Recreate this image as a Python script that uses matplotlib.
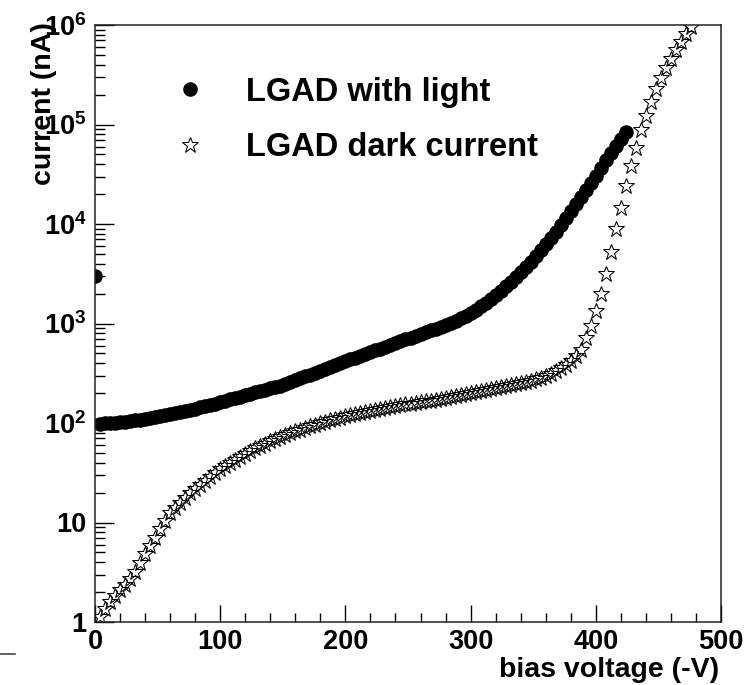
import numpy as np
import matplotlib
matplotlib.use("Agg")
import matplotlib.pyplot as plt
from matplotlib.ticker import MultipleLocator, LogLocator, FixedLocator, NullFormatter
from matplotlib.lines import Line2D

plt.rcParams['font.family'] = ['Liberation Sans', 'DejaVu Sans']
plt.rcParams['font.weight'] = 'bold'
plt.rcParams['mathtext.fontset'] = 'custom'
plt.rcParams['mathtext.rm'] = 'Liberation Sans:bold'
plt.rcParams['mathtext.bf'] = 'Liberation Sans:bold'

# LGAD with light: bias (-V) and log10(current / nA)
light_v = [0, 4, 8, 12, 16, 20, 24, 28, 32, 36, 40, 44, 48, 52, 56, 60, 64, 68, 72, 76,
           80, 84, 88, 92, 96, 100, 104, 108, 112, 116, 120, 124, 128, 132, 136, 140, 144,
           148, 152, 156, 160, 164, 168, 172, 176, 180, 184, 188, 192, 196, 200, 204, 208,
           212, 216, 220, 224, 228, 232, 236, 240, 244, 248, 252, 256, 260, 264, 268, 272,
           276, 280, 284, 288, 292, 296, 300, 304, 308, 312, 316, 320, 324, 328, 332, 336,
           340, 344, 348, 352, 356, 360, 364, 368, 372, 376, 380, 384, 388, 392, 396, 400,
           404, 408, 412, 416, 420, 424]
light_log = [3.48, 1.99, 1.995, 2.00, 2.005, 2.01, 2.015, 2.02, 2.03, 2.035, 2.045, 2.05,
             2.06, 2.07, 2.08, 2.09, 2.10, 2.11, 2.12, 2.135, 2.145, 2.16, 2.17, 2.18, 2.195,
             2.21, 2.225, 2.24, 2.25, 2.265, 2.28, 2.295, 2.31, 2.32, 2.335, 2.35, 2.36,
             2.37, 2.39, 2.41, 2.43, 2.45, 2.47, 2.485, 2.505, 2.525, 2.545, 2.565, 2.585,
             2.60, 2.62, 2.64, 2.655, 2.675, 2.695, 2.71, 2.73, 2.745, 2.765, 2.78, 2.80,
             2.82, 2.84, 2.855, 2.875, 2.89, 2.91, 2.93, 2.945, 2.965, 2.985, 3.005, 3.03,
             3.055, 3.08, 3.11, 3.14, 3.175, 3.21, 3.25, 3.29, 3.33, 3.38, 3.42, 3.47, 3.52,
             3.57, 3.62, 3.68, 3.74, 3.80, 3.86, 3.92, 3.99, 4.06, 4.13, 4.20, 4.27, 4.34,
             4.41, 4.48, 4.56, 4.64, 4.71, 4.78, 4.85, 4.92]

# LGAD dark current
dark_v = [4, 8, 12, 16, 20, 24, 28, 32, 36, 40, 44, 48, 52, 56, 60, 64, 68, 72, 76, 80,
          84, 88, 92, 96, 100, 104, 108, 112, 116, 120, 124, 128, 132, 136, 140, 144, 148,
          152, 156, 160, 164, 168, 172, 176, 180, 184, 188, 192, 196, 200, 204, 208, 212,
          216, 220, 224, 228, 232, 236, 240, 244, 248, 252, 256, 260, 264, 268, 272, 276,
          280, 284, 288, 292, 296, 300, 304, 308, 312, 316, 320, 324, 328, 332, 336, 340,
          344, 348, 352, 356, 360, 364, 368, 372, 376, 380, 384, 388, 392, 396, 400, 404,
          408, 412, 416, 420, 424, 428, 432, 436, 440, 444, 448, 452, 456, 460, 464, 468,
          472, 476]
dark_log = [0.05, 0.13, 0.20, 0.26, 0.32, 0.37, 0.43, 0.50, 0.59, 0.68, 0.76, 0.84, 0.93,
            1.02, 1.10, 1.15, 1.20, 1.25, 1.30, 1.34, 1.38, 1.42, 1.46, 1.50, 1.54, 1.57,
            1.60, 1.63, 1.66, 1.69, 1.72, 1.75, 1.77, 1.79, 1.82, 1.84, 1.86, 1.88, 1.90,
            1.92, 1.93, 1.95, 1.97, 1.98, 2.00, 2.01, 2.03, 2.04, 2.05, 2.07, 2.08, 2.09,
            2.10, 2.11, 2.12, 2.13, 2.14, 2.15, 2.16, 2.17, 2.18, 2.19, 2.19, 2.20, 2.21,
            2.22, 2.22, 2.23, 2.24, 2.25, 2.26, 2.27, 2.28, 2.29, 2.30, 2.31, 2.32, 2.33,
            2.34, 2.35, 2.36, 2.37, 2.38, 2.39, 2.40, 2.41, 2.42, 2.44, 2.45, 2.47, 2.49,
            2.52, 2.55, 2.58, 2.62, 2.67, 2.73, 2.85, 2.97, 3.13, 3.30, 3.50, 3.72, 3.95,
            4.16, 4.38, 4.58, 4.76, 4.94, 5.09, 5.23, 5.36, 5.47, 5.57, 5.66, 5.75, 5.83,
            5.91, 5.98]

light_nA = 10 ** np.array(light_log)
dark_nA = 10 ** np.array(dark_log)

fig = plt.figure(figsize=(7.44, 6.85), dpi=100)
ax = fig.add_axes([95 / 744, 1 - 622 / 685, 626 / 744, 597 / 685])

ax.plot(light_v, light_nA, 'o', color='black', ms=10.5, mew=0, label='LGAD with light')
ax.plot(dark_v, dark_nA, '*', mfc='none', mec='black', mew=0.75, ms=12,
        label='LGAD dark current')

ax.set_yscale('log')
ax.set_xlim(0, 500)
ax.set_ylim(1, 1e6)

ax.xaxis.set_major_locator(MultipleLocator(100))
ax.xaxis.set_minor_locator(MultipleLocator(20))
ax.yaxis.set_major_locator(FixedLocator([1, 10, 1e2, 1e3, 1e4, 1e5, 1e6]))
ax.yaxis.set_minor_locator(LogLocator(base=10, subs=np.arange(2, 10)))
ax.yaxis.set_minor_formatter(NullFormatter())
ax.set_yticklabels(['1', '10', r'$\mathbf{10^{2}}$', r'$\mathbf{10^{3}}$',
                    r'$\mathbf{10^{4}}$', r'$\mathbf{10^{5}}$', r'$\mathbf{10^{6}}$'])

ax.tick_params(axis='x', which='major', direction='in', length=12.5, width=1, pad=5,
               labelsize=19.5, top=False)
ax.tick_params(axis='x', which='minor', direction='in', length=6.5, width=1, top=False)
ax.tick_params(axis='y', which='major', direction='in', length=13.5, width=1, pad=6,
               labelsize=19.5, right=False)
ax.tick_params(axis='y', which='minor', direction='in', length=7.2, width=1, right=False)
for s in ax.spines.values():
    s.set_linewidth(1.1)
    s.set_color('#222222')

ax.set_xlabel('bias voltage (-V)', fontsize=20.5, fontweight='bold')
ax.xaxis.set_label_coords(0.997, -0.058)
ax.xaxis.label.set_horizontalalignment('right')
ax.xaxis.label.set_verticalalignment('top')
fig.text(44 / 744, 1 - 22 / 685, 'current (nA)', rotation=90, ha='center', va='top',
         fontsize=20.5, fontweight='bold')

ax.legend(loc='upper left', bbox_to_anchor=(0.105, 0.935), frameon=False, fontsize=23.5,
          handlelength=1.0, handletextpad=1.2, labelspacing=0.75, borderaxespad=0)

fig.add_artist(Line2D([0, 15 / 744], [1 - 654 / 685, 1 - 654 / 685], color='#444444', lw=1.2))

fig.savefig('out.png', dpi=100)
